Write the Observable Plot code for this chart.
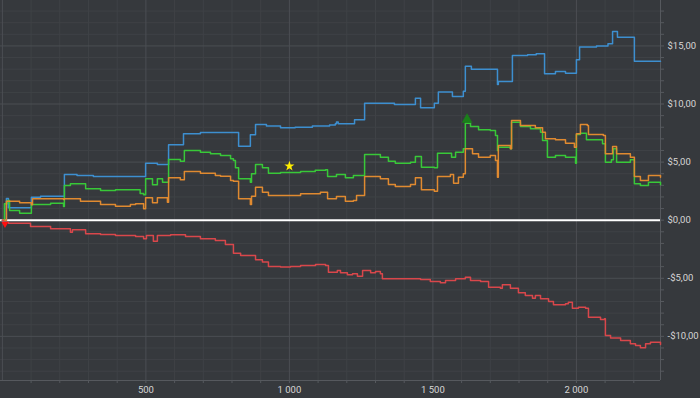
<!DOCTYPE html>
<html><head><meta charset="utf-8">
<script src="https://cdn.jsdelivr.net/npm/d3@7"></script>
<script src="https://cdn.jsdelivr.net/npm/@observablehq/plot@0.6"></script>
<style>html,body{margin:0;padding:0;background:#36393d;overflow:hidden}</style>
</head><body><div id="chart"></div>
<script>
const blueX = [0,14,21,101,133,216,260,317,499,540,579,631,690,823,864,882,920,969,1020,1080,1140,1160,1164,1170,1227,1262,1366,1439,1457,1505,1519,1568,1606,1613,1634,1725,1728,1777,1830,1860,1889,1927,1962,2000,2011,2070,2110,2126,2143,2202,2293];
const blueY = [0,1.87,1.07,1.98,2.07,3.93,3.85,3.76,4.91,4.80,6.49,7.44,7.55,6.37,7.35,8.24,8.10,7.95,8.00,8.10,8.20,8.30,8.45,8.30,8.64,10.07,9.96,10.50,9.67,10.07,11.03,10.65,11.10,13.25,13.00,11.68,11.94,14.17,14.25,14.32,12.60,12.80,12.65,13.80,14.90,15.00,15.18,16.24,15.75,13.68,13.68];

const greenX = [0,7,18,25,60,101,168,213,216,237,290,342,394,446,480,492,499,523,540,558,579,620,634,690,725,760,795,805,812,823,864,868,882,906,927,969,1039,1090,1126,1133,1164,1195,1223,1262,1317,1345,1369,1422,1439,1460,1505,1516,1565,1579,1606,1613,1631,1659,1700,1718,1725,1728,1770,1774,1805,1840,1875,1882,1899,1927,1962,1997,2000,2014,2035,2091,2101,2122,2129,2140,2188,2202,2223,2251,2293];
const greenY = [0,1.41,1.70,0.83,0.60,1.35,1.46,1.18,2.99,3.13,2.70,2.56,2.62,2.62,2.30,2.19,3.56,3.05,3.56,3.27,5.22,5.08,6.00,5.85,5.71,5.57,5.28,5.14,4.51,3.56,3.27,3.99,4.79,4.51,4.04,4.10,4.19,4.30,4.34,3.76,3.93,3.65,3.85,5.65,5.42,5.08,4.91,4.99,5.48,4.56,4.51,5.77,5.42,5.85,6.14,8.35,8.06,7.78,7.72,7.29,6.00,6.28,6.14,8.43,8.06,7.87,7.57,6.86,5.42,5.57,5.42,4.91,7.37,7.49,6.92,6.57,4.99,5.20,6.14,4.99,5.20,3.13,2.99,3.27,3.05];

const orangeX = [0,14,60,101,105,213,216,272,342,394,446,464,492,499,523,540,575,579,620,634,690,742,760,795,805,823,864,868,882,906,927,1039,1108,1133,1164,1195,1223,1234,1262,1317,1345,1369,1422,1439,1460,1505,1516,1561,1572,1589,1606,1613,1638,1659,1700,1718,1725,1728,1770,1774,1805,1857,1882,1892,1927,1962,1993,2000,2014,2038,2042,2094,2101,2126,2140,2188,2202,2223,2251,2293];
const orangeY = [0,1.64,1.50,1.33,1.84,1.78,1.84,1.64,1.35,1.20,1.35,1.41,0.98,1.93,1.50,1.93,1.55,3.65,3.48,4.19,4.04,3.85,3.79,3.42,3.36,1.84,1.35,2.07,2.84,2.41,2.13,2.27,2.41,1.84,2.04,1.64,1.70,2.13,3.76,3.56,3.07,2.90,3.07,3.65,2.62,2.50,3.76,3.93,3.18,3.70,3.99,6.14,5.71,5.42,5.57,5.14,3.70,6.43,6.14,8.58,8.15,7.95,7.57,7.00,6.92,6.63,6.28,7.44,8.24,8.15,7.37,7.29,5.71,6.34,5.71,5.42,3.76,3.42,3.85,3.70];

const redX = [0,4,21,98,168,237,244,290,342,394,464,492,502,526,540,586,638,690,742,777,805,830,882,906,927,969,1004,1039,1091,1126,1136,1167,1178,1202,1220,1237,1255,1283,1300,1317,1324,1387,1457,1491,1526,1544,1579,1613,1631,1666,1694,1735,1742,1770,1798,1822,1847,1857,1875,1903,1920,1962,1972,1986,2007,2032,2042,2084,2098,2101,2119,2154,2188,2206,2223,2241,2258,2293];
const redY = [0,-0.17,-0.26,-0.54,-0.74,-1.03,-0.83,-1.17,-1.23,-1.32,-1.40,-1.60,-1.32,-1.81,-1.32,-1.26,-1.40,-1.60,-1.75,-2.09,-2.84,-3.05,-3.41,-3.61,-3.98,-4.04,-3.98,-3.90,-3.81,-3.90,-4.48,-4.33,-4.53,-4.70,-4.61,-4.82,-4.33,-4.53,-4.41,-4.61,-5.04,-5.04,-5.10,-5.28,-5.39,-5.19,-5.04,-4.91,-5.19,-5.28,-5.77,-5.85,-5.56,-5.85,-6.25,-6.48,-6.71,-6.48,-6.76,-7.00,-7.28,-7.19,-7.06,-7.57,-7.49,-7.57,-8.35,-8.55,-8.49,-9.92,-10.15,-10.35,-10.64,-10.78,-10.98,-10.64,-10.50,-10.70];

const starPoint = [{x: 1000, y: 4.65}];
const peakPoint = [{x: 1619, y: 8.66}];
const startPoint = [{x: 9, y: -0.32}];

const xLabelTicks = [500, 1000, 1500, 2000];
const xMajorGrid = [0, 500, 1000, 1500, 2000];
const xMinorGrid = [100,200,300,400,600,700,800,900,1100,1200,1300,1400,1600,1700,1800,1900,2100,2200];
const yMajorTicks = [-10, -5, 0, 5, 10, 15];
const yMinorGrid = [-13,-12,-11,-9,-8,-7,-6,-4,-3,-2,-1,1,2,3,4,6,7,8,9,11,12,13,14,16,17,18];

const xDomain = [-6.6, 2293];
const yDomain = [-13.8, 18.91];

const rows = (xs, ys) => xs.map((x, i) => ({x, y: ys[i]}));
const fmtY = v => (v < 0 ? "-" : "") + "$" + Math.abs(v).toFixed(2).replace(".", ",");
const fmtX = v => d3.format(",")(v).replace(/,/g, " ");

const minorC = "#3f4246", majorC = "#4b4e53", axisC = "#56595e";

const chart = Plot.plot({
  width: 700, height: 398,
  marginTop: 0, marginLeft: 0, marginRight: 40, marginBottom: 18,
  style: {background: "#36393d", color: "#d6d6d6", fontFamily: "Roboto, 'Noto Sans', sans-serif", fontSize: "9.5px"},
  x: {domain: xDomain, label: null},
  y: {domain: yDomain, label: null},
  marks: [
    Plot.ruleX(xMinorGrid, {stroke: minorC}),
    Plot.ruleY(yMinorGrid, {stroke: minorC}),
    Plot.ruleX(xMajorGrid, {stroke: majorC}),
    Plot.ruleY(yMajorTicks, {stroke: majorC}),
    Plot.ruleX([xDomain[1]], {stroke: axisC}),
    Plot.ruleY([yDomain[0]], {stroke: axisC}),
    Plot.axisY(yMinorGrid, {anchor: "right", tickSize: 3, tickFormat: () => "", stroke: axisC, label: null}),
    Plot.axisY(yMajorTicks, {anchor: "right", tickSize: 3, tickPadding: 4, tickFormat: fmtY, stroke: axisC, label: null}),
    Plot.axisX(xMinorGrid, {anchor: "bottom", tickSize: 3, tickFormat: () => "", stroke: axisC, label: null}),
    Plot.axisX(xLabelTicks, {anchor: "bottom", tickSize: 3, tickPadding: 2.5, tickFormat: fmtX, stroke: axisC, label: null}),
    Plot.ruleY([0], {stroke: "#ffffff", strokeWidth: 2}),
    Plot.line(rows(blueX, blueY), {x: "x", y: "y", curve: "step-after", stroke: "#3d8fd0", strokeWidth: 1.5}),
    Plot.line(rows(greenX, greenY), {x: "x", y: "y", curve: "step-after", stroke: "#38c838", strokeWidth: 1.5}),
    Plot.line(rows(orangeX, orangeY), {x: "x", y: "y", curve: "step-after", stroke: "#e08a30", strokeWidth: 1.5}),
    Plot.line(rows(redX, redY), {x: "x", y: "y", curve: "step-after", stroke: "#d9474b", strokeWidth: 1.5}),
    Plot.dot(starPoint, {x: "x", y: "y", symbol: "star", r: 3.2, fill: "#ffee00", stroke: null}),
    Plot.dot(peakPoint, {x: "x", y: "y", symbol: "triangle", r: 4, fill: "#1a7f1a", stroke: null}),
    Plot.dot(startPoint, {x: "x", y: "y", symbol: "triangle", rotate: 180, r: 2.6, fill: "#ff1010", stroke: null})
  ]
});
document.getElementById("chart").appendChild(chart);
</script>
</body></html>
